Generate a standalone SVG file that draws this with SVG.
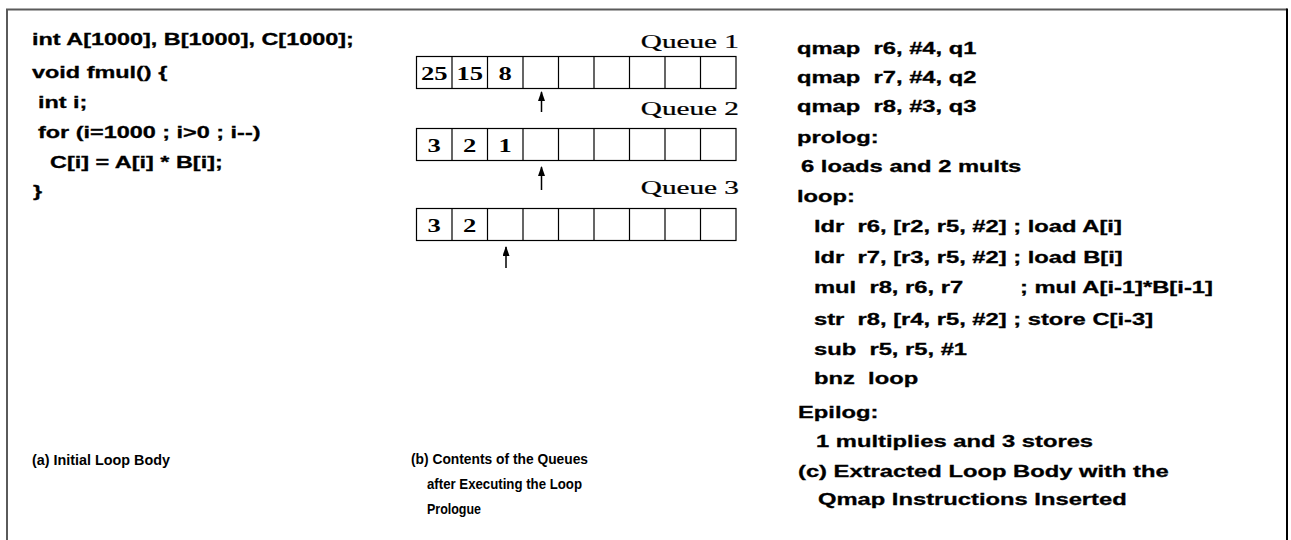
<svg xmlns="http://www.w3.org/2000/svg" width="1291" height="540" viewBox="0 0 1291 540">
<style>
.c{font-family:"Liberation Sans",Arial,sans-serif;font-weight:bold;font-size:16.5px;fill:#000;stroke:#000;stroke-width:0.3;white-space:pre}
.cap{font-family:"Liberation Sans",Arial,sans-serif;font-weight:bold;font-size:15px;fill:#000}
.t{font-family:"Liberation Serif","Times New Roman",serif;font-size:19.5px;fill:#000;stroke:#000;stroke-width:0.25;text-anchor:end}
.d{font-family:"Liberation Serif","Times New Roman",serif;font-weight:bold;font-size:18.6px;fill:#000;text-anchor:middle}
.cell{fill:#fff;stroke:#000;stroke-width:1.2}
.ln{stroke:#000;stroke-width:1.2}
.arr{stroke:#000;stroke-width:1.5;fill:none}
</style>
<defs>
<marker id="ah" markerWidth="10" markerHeight="7" refX="9" refY="3.5" orient="auto" markerUnits="userSpaceOnUse" viewBox="0 0 10 7">
<path d="M0,0 L10,3.5 L0,7 Z" fill="#000"/>
</marker>
</defs>
<rect width="1291" height="540" fill="#fff"/>
<g id="frame">
<path d="M7,540 V9.5 H1287" fill="none" stroke="#5a5a5a" stroke-width="2"/>
<path d="M1287,8.5 V540" fill="none" stroke="#000" stroke-width="2"/>
</g>
<g id="code-a">
<text class="c" transform="translate(32,45) scale(1.42,1)">int A[1000], B[1000], C[1000];</text>
<text class="c" transform="translate(32,78) scale(1.42,1)">void fmul() {</text>
<text class="c" transform="translate(38,108) scale(1.42,1)">int i;</text>
<text class="c" transform="translate(38,138) scale(1.42,1)">for (i=1000 ; i&gt;0 ; i--)</text>
<text class="c" transform="translate(50,168) scale(1.42,1)">C[i] = A[i] * B[i];</text>
<text class="c" transform="translate(33,197) scale(1.42,1)">}</text>
</g>
<g id="queue1">
<text class="t" transform="translate(739,48) scale(1.5,1)">Queue 1</text>
<rect class="cell" x="416.5" y="56.5" width="319.5" height="32"/>
<path class="ln" d="M452,56.5V88.5M487.5,56.5V88.5M523,56.5V88.5M558.5,56.5V88.5M594,56.5V88.5M629.5,56.5V88.5M665,56.5V88.5M700.5,56.5V88.5"/>
<text class="d" transform="translate(434.2,79.5) scale(1.43,1)">25</text>
<text class="d" transform="translate(469.7,79.5) scale(1.43,1)">15</text>
<text class="d" transform="translate(505.2,79.5) scale(1.43,1)">8</text>
</g>
<g id="queue2">
<text class="t" transform="translate(739,115) scale(1.5,1)">Queue 2</text>
<rect class="cell" x="416.5" y="128.5" width="319.5" height="32"/>
<path class="ln" d="M452,128.5V160.5M487.5,128.5V160.5M523,128.5V160.5M558.5,128.5V160.5M594,128.5V160.5M629.5,128.5V160.5M665,128.5V160.5M700.5,128.5V160.5"/>
<text class="d" transform="translate(434.2,151.5) scale(1.43,1)">3</text>
<text class="d" transform="translate(469.7,151.5) scale(1.43,1)">2</text>
<text class="d" transform="translate(505.2,151.5) scale(1.43,1)">1</text>
</g>
<g id="queue3">
<text class="t" transform="translate(739,194) scale(1.5,1)">Queue 3</text>
<rect class="cell" x="416.5" y="208.5" width="319.5" height="32"/>
<path class="ln" d="M452,208.5V240.5M487.5,208.5V240.5M523,208.5V240.5M558.5,208.5V240.5M594,208.5V240.5M629.5,208.5V240.5M665,208.5V240.5M700.5,208.5V240.5"/>
<text class="d" transform="translate(434.2,231.5) scale(1.43,1)">3</text>
<text class="d" transform="translate(469.7,231.5) scale(1.43,1)">2</text>
</g>
<g id="connectors">
<path class="arr" d="M541.5,112 V92" marker-end="url(#ah)"/>
<path class="arr" d="M541.5,190 V167" marker-end="url(#ah)"/>
<path class="arr" d="M506,268 V247" marker-end="url(#ah)"/>
</g>
<g id="code-c">
<text class="c" transform="translate(797,54) scale(1.44,1)">qmap  r6, #4, q1</text>
<text class="c" transform="translate(797,83) scale(1.44,1)">qmap  r7, #4, q2</text>
<text class="c" transform="translate(797,112) scale(1.44,1)">qmap  r8, #3, q3</text>
<text class="c" transform="translate(797,143) scale(1.44,1)">prolog:</text>
<text class="c" transform="translate(801,172) scale(1.44,1)">6 loads and 2 mults</text>
<text class="c" transform="translate(797,202) scale(1.44,1)">loop:</text>
<text class="c" transform="translate(814,232) scale(1.44,1)">ldr  r6, [r2, r5, #2] ; load A[i]</text>
<text class="c" transform="translate(814,263) scale(1.44,1)">ldr  r7, [r3, r5, #2] ; load B[i]</text>
<text class="c" transform="translate(814,293) scale(1.44,1)">mul  r8, r6, r7<tspan x="143">; mul A[i-1]*B[i-1]</tspan></text>
<text class="c" transform="translate(814,325) scale(1.44,1)">str  r8, [r4, r5, #2] ; store C[i-3]</text>
<text class="c" transform="translate(814,355) scale(1.44,1)">sub  r5, r5, #1</text>
<text class="c" transform="translate(814,384) scale(1.44,1)">bnz  loop</text>
<text class="c" transform="translate(798,418) scale(1.44,1)">Epilog:</text>
<text class="c" transform="translate(816,447) scale(1.44,1)">1 multiplies and 3 stores</text>
</g>
<g id="captions">
<text class="cap" x="32" y="465" textLength="138" lengthAdjust="spacingAndGlyphs">(a) Initial Loop Body</text>
<text class="cap" x="411" y="464" textLength="177" lengthAdjust="spacingAndGlyphs">(b) Contents of the Queues</text>
<text class="cap" x="427" y="489" textLength="155" lengthAdjust="spacingAndGlyphs">after Executing the Loop</text>
<text class="cap" x="427" y="514" textLength="54" lengthAdjust="spacingAndGlyphs">Prologue</text>
<text class="c" transform="translate(798,477) scale(1.44,1)">(c) Extracted Loop Body with the</text>
<text class="c" transform="translate(818,505) scale(1.44,1)">Qmap Instructions Inserted</text>
</g>
</svg>
